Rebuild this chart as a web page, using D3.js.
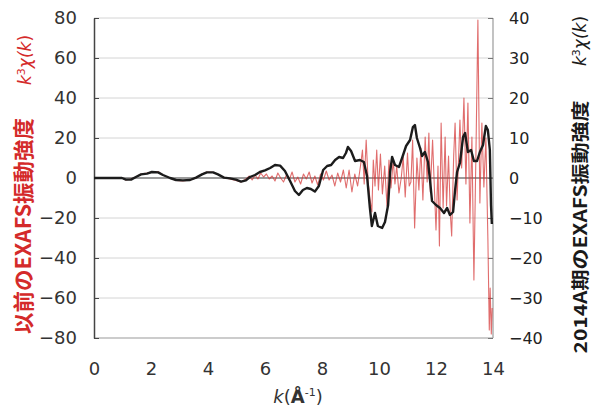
<!DOCTYPE html>
<html>
<head>
<meta charset="utf-8">
<script src="https://cdn.jsdelivr.net/npm/d3@7/dist/d3.min.js"></script>
<style>
  html, body { margin: 0; padding: 0; background: #fff; }
  svg { display: block; }
</style>
</head>
<body>
<svg id="chart" width="597" height="407"></svg>
<script>
// k (Å^-1) axis ticks and the two vertical scales
const kTicks = [0, 2, 4, 6, 8, 10, 12, 14];
const leftTicks = [80, 60, 40, 20, 0, -20, -40, -60, -80];
const rightTicks = [40, 30, 20, 10, 0, -10, -20, -30, -40];

// 2014A EXAFS oscillation, k^3 chi(k) (right axis)
const newK = [0, 0.98, 1.12, 1.3, 1.47, 1.65, 1.86, 2.03, 2.25, 2.42, 2.67, 2.88, 3.12, 3.37, 3.58, 3.79, 3.96, 4.18, 4.35, 4.56, 4.77, 4.98, 5.16, 5.33, 5.47, 5.65, 5.82, 6.0, 6.18, 6.35, 6.53, 6.7, 6.88, 7.05, 7.19, 7.33, 7.47, 7.61, 7.75, 7.89, 8.04, 8.18, 8.32, 8.46, 8.6, 8.74, 8.84, 8.91, 9.02, 9.16, 9.33, 9.47, 9.58, 9.68, 9.75, 9.86, 9.96, 10.11, 10.21, 10.32, 10.39, 10.46, 10.56, 10.7, 10.81, 10.95, 11.09, 11.19, 11.26, 11.33, 11.44, 11.51, 11.61, 11.72, 11.79, 11.86, 12.0, 12.14, 12.28, 12.39, 12.49, 12.6, 12.67, 12.74, 12.84, 12.95, 13.02, 13.12, 13.23, 13.33, 13.44, 13.54, 13.65, 13.75, 13.82, 13.89, 13.93, 13.96];
const newChi = [0, 0, -0.4, -0.4, 0.25, 0.9, 1.1, 1.5, 1.4, 0.75, 0, -0.5, -0.6, -0.5, 0.1, 0.9, 1.4, 1.4, 0.9, 0.1, -0.1, -0.4, -0.9, -0.6, 0.25, 0.75, 1.5, 1.9, 2.5, 3.25, 3.1, 1.75, -0.75, -3.25, -4.25, -3, -2.5, -2.75, -3.4, -2, 2, 3, 3.25, 4.5, 5.25, 5, 6.25, 7.75, 6.75, 4.25, 4.5, 4, 0.5, -7.5, -12, -8.75, -12, -12.5, -11, -6.75, 1.5, 5.25, 3.25, 2.75, 5, 8, 9.5, 12.75, 13.25, 10, 7.5, 5.5, 6.5, 4, -0.5, -5.75, -6.75, -7.5, -8.75, -7.5, -9.25, -8.5, -3, 1.5, 3.75, 10.25, 11.25, 6.5, 7, 4.25, 4.25, 6.5, 8.25, 13, 12, 7, -6.75, -11.5];

// earlier EXAFS oscillation, k^3 chi(k) (left axis)
const oldK = [0, 0.98, 1.12, 1.3, 1.47, 1.65, 1.86, 2.03, 2.25, 2.42, 2.67, 2.88, 3.12, 3.37, 3.58, 3.79, 3.96, 4.18, 4.35, 4.56, 4.77, 4.98, 5.16, 5.33, 5.45, 5.55, 5.65, 5.75, 5.85, 5.95, 6.05, 6.15, 6.25, 6.35, 6.45, 6.55, 6.65, 6.75, 6.85, 6.95, 7.05, 7.15, 7.25, 7.35, 7.45, 7.55, 7.65, 7.75, 7.85, 7.95, 8.05, 8.15, 8.25, 8.35, 8.45, 8.55, 8.65, 8.75, 8.85, 8.95, 9.05, 9.15, 9.25, 9.35, 9.42, 9.48, 9.55, 9.62, 9.68, 9.75, 9.8, 9.86, 9.92, 9.98, 10.05, 10.12, 10.2, 10.28, 10.35, 10.42, 10.5, 10.56, 10.62, 10.7, 10.78, 10.85, 10.92, 11.0, 11.06, 11.12, 11.18, 11.25, 11.33, 11.4, 11.47, 11.54, 11.62, 11.69, 11.75, 11.8, 11.88, 11.95, 12.0, 12.07, 12.12, 12.18, 12.25, 12.32, 12.37, 12.44, 12.5, 12.55, 12.62, 12.67, 12.74, 12.84, 12.9, 12.98, 13.05, 13.12, 13.19, 13.26, 13.33, 13.4, 13.47, 13.54, 13.61, 13.68, 13.75, 13.82, 13.87, 13.9, 13.94, 13.97];
const oldChi = [0, 0, -1, -0.5, 0.5, 2, 2.5, 3, 3.2, 1.5, 0, -1.2, -1.5, -1, 0, 2, 3, 2.8, 1.8, 0.3, -0.5, -1.2, -2, -0.5, 1, -1, 1.5, -0.5, 2.5, 0.5, 2, -0.5, 1, -1.5, 2.5, 0, -2, 1.5, -1, 3, -2, 0.5, -3, 2, -0.5, 3, -2.5, 1, -3.5, 2, -1, 3.5, -1, 1.5, -4, 2.5, -2, 4, -5, 4, -7, 2, -4, 6, 14, -3, 19, -2, -10, -17, 9, -4, 14, -6, 12, -8, 6, -14, 9, -5, 9, -3, 6, -7.5, 0, 10.5, -9.5, 12.5, -4, -2, 19, -25, 10, -6, 15, -11, 20.5, -2, 22.5, -7, 19, -7.5, -26, 6, -34, 27.5, -15, 20.5, -14, 11, -17, -29, 11, 27.5, -11, 29, 5, 40, -3, 37.5, -22.5, 20.5, -51, 11, 79, -12.5, 27.5, -4.5, 20, -30, -76, -55, -78, -65];

const svg = d3.select("#chart");
const x = d3.scaleLinear().domain([0, 14]).range([94, 493]);
const yL = d3.scaleLinear().domain([-80, 80]).range([338, 18]);
const yR = d3.scaleLinear().domain([-40, 40]).range([338, 18]);

// horizontal gridlines
svg.append("g").selectAll("line").data(leftTicks.filter(d => d !== 0 && d !== -80))
  .join("line")
  .attr("x1", x(0)).attr("x2", x(14))
  .attr("y1", d => yL(d)).attr("y2", d => yL(d))
  .attr("stroke", "#d4d4d4").attr("stroke-width", 1);

// frame
svg.append("line").attr("x1", x(14)).attr("x2", x(14)).attr("y1", yL(80)).attr("y2", yL(-80))
  .attr("stroke", "#9a9a9a").attr("stroke-width", 1.2);
svg.append("line").attr("x1", x(0)).attr("x2", x(14)).attr("y1", yL(-80)).attr("y2", yL(-80))
  .attr("stroke", "#9a9a9a").attr("stroke-width", 1.2);

// left axis with inward ticks
const axL = svg.append("g").attr("transform", `translate(${x(0)},0)`)
  .call(d3.axisLeft(yL).tickValues(leftTicks).tickSizeInner(-5).tickSizeOuter(0).tickFormat(d3.format("d")));
axL.select(".domain").attr("stroke", "#444").attr("stroke-width", 1.5);
axL.selectAll(".tick line").attr("stroke", "#444");
axL.selectAll(".tick text").attr("x", -17).attr("fill", "#333")
  .style("font-family", "DejaVu Sans, sans-serif").style("font-size", "18px");

// right axis with inward ticks
const axR = svg.append("g").attr("transform", `translate(${x(14)},0)`)
  .call(d3.axisRight(yR).tickValues(rightTicks).tickSizeInner(-5).tickSizeOuter(0)
    .tickFormat(d => d < 0 ? "\u2212" + Math.abs(d) : String(d)));
axR.select(".domain").remove();
axR.selectAll(".tick line").attr("stroke", "#777");
axR.selectAll(".tick text").attr("x", 16).attr("fill", "#222")
  .style("font-family", "DejaVu Sans, sans-serif").style("font-size", "16px");

// bottom tick labels (no tick marks)
const axB = svg.append("g").attr("transform", `translate(0,${yL(-80)})`)
  .call(d3.axisBottom(x).tickValues(kTicks).tickSize(0).tickFormat(d3.format("d")));
axB.select(".domain").remove();
axB.selectAll(".tick text").attr("y", 24).attr("fill", "#333")
  .style("font-family", "DejaVu Sans, sans-serif").style("font-size", "18px");

// zero line
svg.append("line").attr("x1", x(0)).attr("x2", x(14)).attr("y1", yL(0)).attr("y2", yL(0))
  .attr("stroke", "#7a7a7a").attr("stroke-width", 1.3);

// earlier data (thin red)
const oldLine = d3.line().x((d, i) => x(oldK[i])).y(d => yL(d));
svg.append("path").datum(oldChi).attr("d", oldLine)
  .attr("fill", "none").attr("stroke", "#d43535").attr("stroke-width", 1.1)
  .attr("stroke-opacity", 0.72).attr("stroke-linejoin", "round");

// 2014A data (thick black)
const newLine = d3.line().x((d, i) => x(newK[i])).y(d => yR(d));
svg.append("path").datum(newChi).attr("d", newLine)
  .attr("fill", "none").attr("stroke", "#1c1c1c").attr("stroke-width", 2.4)
  .attr("stroke-linejoin", "round");

// axis titles
const red = "#d42a2a";
function kChi(g, color) {
  const t = g.append("text").attr("fill", color)
    .style("font-family", "DejaVu Sans, sans-serif").style("font-size", "17px");
  t.append("tspan").text("k").style("font-style", "italic");
  t.append("tspan").text("3").attr("dy", -6).style("font-size", "11px");
  t.append("tspan").text("\u03c7(").attr("dy", 6).style("font-style", "italic");
  t.append("tspan").text("k").style("font-style", "italic");
  t.append("tspan").text(")");
  return t;
}

svg.append("text").attr("transform", "translate(31,226) rotate(-90)")
  .attr("text-anchor", "middle").attr("fill", red)
  .attr("textLength", 216).attr("lengthAdjust", "spacingAndGlyphs")
  .style("font-family", "Noto Sans CJK JP, sans-serif").style("font-size", "21px").style("font-weight", "bold")
  .text("以前のEXAFS振動強度");
kChi(svg.append("g").attr("transform", "translate(31,60) rotate(-90)"), red).attr("text-anchor", "middle");

svg.append("text").attr("transform", "translate(587,227) rotate(-90)")
  .attr("text-anchor", "middle").attr("fill", "#1a1a1a")
  .attr("textLength", 253).attr("lengthAdjust", "spacingAndGlyphs")
  .style("font-family", "Noto Sans CJK JP, sans-serif").style("font-size", "18px").style("font-weight", "bold")
  .text("2014A期のEXAFS振動強度");
kChi(svg.append("g").attr("transform", "translate(586,41) rotate(-90)"), "#1a1a1a").attr("text-anchor", "middle");

// bottom title k(Å^-1)
const xt = svg.append("text").attr("x", 298).attr("y", 403).attr("text-anchor", "middle").attr("fill", "#333")
  .style("font-family", "DejaVu Sans, sans-serif").style("font-size", "18px");
xt.append("tspan").text("k").style("font-style", "italic");
xt.append("tspan").text("(");
xt.append("tspan").text("Å").style("font-weight", "bold");
xt.append("tspan").text("-1").attr("dy", -7).style("font-size", "11px");
xt.append("tspan").text(")").attr("dy", 7);
</script>
</body>
</html>
